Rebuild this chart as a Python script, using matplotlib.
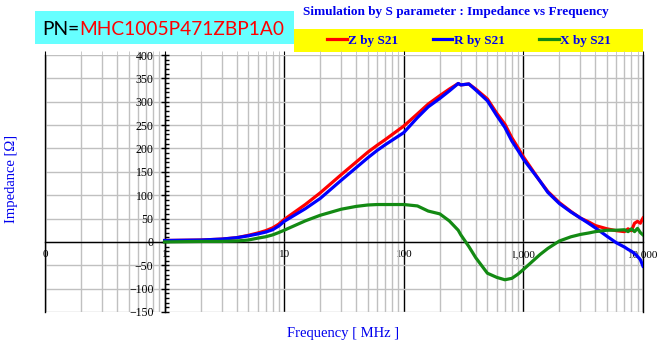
import matplotlib
matplotlib.use("Agg")
import matplotlib.pyplot as plt
from matplotlib.patches import Rectangle
from matplotlib.ticker import FixedLocator, FixedFormatter, MultipleLocator, LogLocator

# frequency points [MHz]
freq = [1, 2, 3, 4, 5, 6, 7, 8, 9, 10, 15, 20, 30, 40, 50, 60, 70, 100, 130, 160,
        200, 240, 285, 300, 350, 400, 500, 600, 700, 800, 900, 1000, 1377, 1600,
        2000, 2500, 3000, 3500, 4000, 5000, 6000, 7000, 7500, 8000, 8500, 9000,
        9500, 10000]

# |Z|, R and X by S21 [ohm]
z_s21 = [3, 4, 6, 9, 14, 19, 24, 30, 38, 48, 80, 105, 144, 171, 192, 207, 219, 248, 274, 295,
         313, 327, 339, 336, 338, 327, 306, 275, 252, 223, 202, 182, 130, 108,
         84, 65, 51, 43, 35, 28, 24, 22, 28, 24, 40, 44,
         40, 51]
r_s21 = [3, 4, 6, 9, 13, 17, 21, 26, 34, 44, 71, 93, 132, 159, 180, 196, 208, 234, 266, 289,
         307, 323, 339, 336, 338, 325, 302, 270, 245, 216, 196, 177, 130, 106,
         82, 64, 51, 40, 30, 12, -2, -11, -16, -20, -25, -31,
         -38, -52]
x_s21 = [0, 1, 1, 2, 4, 8, 11, 15, 20, 25, 45, 57, 70, 76, 79, 80, 80, 80, 77, 66,
         60, 45, 25, 15, -10, -34, -67, -76, -81, -78, -69, -59, -27, -14,
         2, 11, 16, 19, 22, 25, 25, 26, 22, 28, 22, 29,
         20, 15]

xticks = [0.1, 1, 10, 100, 1000, 10000]
xtick_labels = ["0", "1", "10", "100", "1,000", "10,000"]
yticks = list(range(-150, 401, 50))

W, H = 662, 346
serif = "Liberation Serif"
blue_txt = "#0000ee"

fig = plt.figure(figsize=(W / 100, H / 100), dpi=100)
ax = fig.add_axes([45 / W, 1 - 312 / H, 598 / W, 257 / H])

ax.plot(freq, z_s21, color="#ff0000", lw=2.3, label="Z by S21", zorder=3)
ax.plot(freq, r_s21, color="#0000ff", lw=2.3, label="R by S21", zorder=3)
ax.plot(freq, x_s21, color="#138a13", lw=2.3, label="X by S21", zorder=3)

ax.set_xscale("log")
ax.set_xlim(0.1, 10000)
ax.set_ylim(-150, 400)

ax.xaxis.set_major_locator(FixedLocator(xticks))
ax.xaxis.set_major_formatter(FixedFormatter(xtick_labels))
ax.xaxis.set_minor_locator(LogLocator(base=10, subs=range(2, 10)))
ax.xaxis.set_minor_formatter(FixedFormatter([]))
ax.yaxis.set_major_locator(FixedLocator(yticks))
ax.yaxis.set_minor_locator(MultipleLocator(10))

ax.set_axisbelow(True)
ax.grid(which="major", axis="x", color="k", lw=1)
ax.grid(which="minor", axis="x", color="#c0c0c0", lw=1)
ax.grid(which="major", axis="y", color="#c0c0c0", lw=1)
ax.yaxis.get_gridlines()[0].set_visible(False)

# axes cross at (1, 0)
ax.spines["left"].set_position(("data", 1))
ax.spines["bottom"].set_position(("data", 0))
ax.spines["top"].set_visible(False)
ax.spines["right"].set_color("k")
for s in ["left", "bottom", "right"]:
    ax.spines[s].set_linewidth(1)
ax.axvline(0.1, color="k", lw=1, clip_on=False, zorder=2.5)

ax.tick_params(axis="x", which="both", bottom=False, top=True, direction="out",
               length=3, labelbottom=True, labeltop=False, pad=3, labelsize=8)
ax.tick_params(axis="x", which="major", color="k")
ax.tick_params(axis="x", which="minor", color="#c0c0c0")
ax.tick_params(axis="y", which="major", direction="inout", length=6, width=1,
               labelsize=8.5, pad=5)
ax.tick_params(axis="y", which="minor", direction="in", length=3, width=1)
for lab in ax.get_xticklabels() + ax.get_yticklabels():
    lab.set_fontfamily(serif)

# axis titles
fig.text(12 / W, 1 - 179 / H, "Impedance [Ω]", rotation=90, ha="center", va="center",
         color=blue_txt, fontsize=10.5, family=serif)
fig.text(343 / W, 1 - 333 / H, "Frequency [ MHz ]", ha="center", va="center",
         color=blue_txt, fontsize=10.5, family=serif)

# chart title
fig.text(303 / W, 1 - 12 / H, "Simulation by S parameter : Impedance vs Frequency",
         ha="left", va="center", color=blue_txt, fontsize=9.5, fontweight="bold",
         family=serif)

# part number box
fig.patches.append(Rectangle((35 / W, 1 - 44 / H), 259 / W, 33 / H,
                             transform=fig.transFigure, facecolor="#66ffff",
                             edgecolor="none", zorder=-1))
t1 = fig.text(42 / W, 1 - 35 / H, "PN=", ha="left", va="baseline", color="k",
              fontsize=13.8, family="Lato")
ax.annotate("MHC1005P471ZBP1A0", xy=(1, 0), xycoords=t1, ha="left", va="bottom",
            color="#ff0000", fontsize=13.8, family="Lato", annotation_clip=False)

# legend box
fig.patches.append(Rectangle((294 / W, 1 - 52 / H), 349 / W, 23 / H,
                             transform=fig.transFigure, facecolor="#ffff00",
                             edgecolor="none", zorder=-1))
fig.legend(loc="center", bbox_to_anchor=(469 / W, 1 - 41 / H), ncol=3, frameon=False,
           handlelength=1.5, handletextpad=0.1, columnspacing=2.6, labelcolor=blue_txt,
           prop={"family": serif, "weight": "bold", "size": 9.5})

fig.savefig("out.png", dpi=100)
